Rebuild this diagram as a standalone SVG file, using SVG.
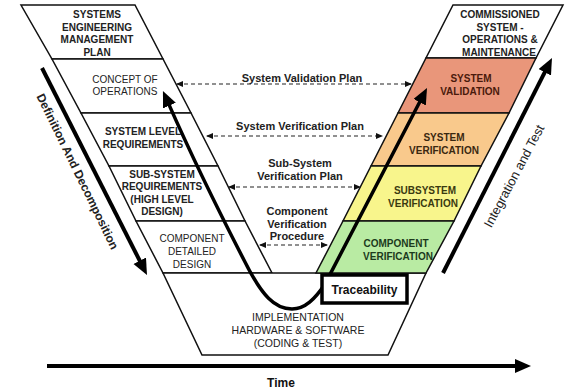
<svg xmlns="http://www.w3.org/2000/svg" width="566" height="391" viewBox="0 0 566 391">
<defs>
<style>
.box{stroke:#111;stroke-width:1.5;fill:#fff;stroke-linejoin:miter}
.t{font-family:"Liberation Sans",Arial,sans-serif;font-size:10px;text-anchor:middle;fill:#222}
.b{font-weight:bold}
.lbl{font-family:"Liberation Sans",Arial,sans-serif;font-size:11px;font-weight:bold;text-anchor:middle;fill:#222}
.dash{stroke:#222;stroke-width:1.2;stroke-dasharray:4 3;fill:none;marker-start:url(#sa);marker-end:url(#sa)}
.thick{stroke:#000;fill:none;stroke-width:3.5;marker-end:url(#ba)}
</style>
<marker id="sa" markerUnits="userSpaceOnUse" markerWidth="8" markerHeight="8" refX="6" refY="3" orient="auto-start-reverse"><path d="M0,0 L7,3 L0,6 Z" fill="#111"/></marker>
<marker id="ba" markerUnits="userSpaceOnUse" markerWidth="18" markerHeight="16" refX="3" refY="7" orient="auto-start-reverse"><path d="M0,0 L16,7 L0,14 Z" fill="#000"/></marker>
</defs>
<rect width="566" height="391" fill="#fff"/>

<g id="semp"><polygon class="box" points="21,5 135,5 163,59 52,59"/>
<text class="t b" x="97"><tspan x="97" y="18">SYSTEMS</tspan><tspan x="97" y="30.5">ENGINEERING</tspan><tspan x="97" y="43">MANAGEMENT</tspan><tspan x="97" y="55.5">PLAN</tspan></text></g>
<g id="conops"><polygon class="box" points="52,59 163,59 191,113 81,113"/>
<text class="t"><tspan x="125" y="83">CONCEPT OF</tspan><tspan x="125" y="95">OPERATIONS</tspan></text></g>
<g id="syslevel"><polygon class="box" points="81,113 191,113 218,166 109,166"/>
<text class="t b"><tspan x="143" y="135">SYSTEM LEVEL</tspan><tspan x="143" y="148">REQUIREMENTS</tspan></text></g>
<g id="subsys"><polygon class="box" points="109,166 218,166 245,221 136,221"/>
<text class="t b"><tspan x="162" y="177.5">SUB-SYSTEM</tspan><tspan x="162" y="190">REQUIREMENTS</tspan><tspan x="162" y="202.5">(HIGH LEVEL</tspan><tspan x="162" y="215">DESIGN)</tspan></text></g>
<g id="compdd"><polygon class="box" points="136,221 245,221 272,273 163,273"/>
<text class="t"><tspan x="192" y="242">COMPONENT</tspan><tspan x="192" y="255">DETAILED</tspan><tspan x="192" y="267.5">DESIGN</tspan></text></g>
<g id="impl"><polygon class="box" points="163,273 426,273 388,355 202,355"/>
<text class="t" style="font-size:10.5px"><tspan x="298" y="321">IMPLEMENTATION</tspan><tspan x="298" y="334">HARDWARE &amp; SOFTWARE</tspan><tspan x="298" y="347">(CODING &amp; TEST)</tspan></text></g>

<g id="commissioned"><polygon class="box" points="453,5 563,5 536,58 426,58"/>
<text class="t b"><tspan x="500" y="18">COMMISSIONED</tspan><tspan x="500" y="30.5">SYSTEM -</tspan><tspan x="500" y="43">OPERATIONS &amp;</tspan><tspan x="499" y="55.5">MAINTENANCE</tspan></text></g>
<g id="sysval"><polygon class="box" style="fill:#E9967A" points="426,58 536,58 509,113 398,113"/>
<text class="t b" style="fill:#4a1a0c"><tspan x="471" y="82">SYSTEM</tspan><tspan x="470" y="94.5">VALIDATION</tspan></text></g>
<g id="sysver"><polygon class="box" style="fill:#F9C98C" points="398,113 509,113 481,166 371,166"/>
<text class="t b" style="fill:#3a2810"><tspan x="444" y="141">SYSTEM</tspan><tspan x="444" y="153.5">VERIFICATION</tspan></text></g>
<g id="subver"><polygon class="box" style="fill:#F8F58C" points="371,166 481,166 454,221 343,221"/>
<text class="t b" style="fill:#3a3a10"><tspan x="425" y="194">SUBSYSTEM</tspan><tspan x="423" y="206.5">VERIFICATION</tspan></text></g>
<g id="compver"><polygon class="box" style="fill:#B9EBA3" points="343,221 454,221 426,273 316,273"/>
<text class="t b" style="fill:#1c3a1c"><tspan x="396" y="247">COMPONENT</tspan><tspan x="398" y="259.5">VERIFICATION</tspan></text></g>

<g id="connectors">
<line class="dash" x1="177" y1="84" x2="411" y2="84"/>
<text class="lbl" x="302" y="81.5">System Validation Plan</text>
<line class="dash" x1="207" y1="136" x2="382" y2="136"/>
<text class="lbl" x="300" y="130">System Verification Plan</text>
<line class="dash" x1="229" y1="187" x2="360" y2="187"/>
<text class="lbl"><tspan x="300" y="167">Sub-System</tspan><tspan x="300" y="179.5">Verification Plan</tspan></text>
<line class="dash" x1="260" y1="245" x2="327" y2="245"/>
<text class="lbl"><tspan x="297" y="215">Component</tspan><tspan x="297" y="227.5">Verification</tspan><tspan x="297" y="240">Procedure</tspan></text>

<path class="thick" style="marker-start:url(#ba)" d="M168.2,102.9 Q200,175 245,262 C262,296 275,309 292,309 C305,309 315,299 325,284 L421,99.5"/>
<line class="thick" style="stroke-width:4" x1="42" y1="68" x2="141.1" y2="263.4"/>
<line class="thick" style="stroke-width:4" x1="443" y1="273" x2="546.1" y2="69.6"/>
<line class="thick" style="stroke-width:4" x1="47" y1="366" x2="518" y2="366"/>
</g>

<g id="traceability"><rect x="322" y="275" width="85" height="28" fill="#fff" stroke="#000" stroke-width="3.5"/>
<text class="t b" style="font-size:12px;fill:#111" x="364.5" y="294">Traceability</text></g>

<g id="axis-labels">
<text class="t b" style="font-size:12px;fill:#222" transform="translate(77.5,171.5) rotate(64)" x="0" y="4">Definition And Decomposition</text>
<text class="t" style="font-size:13px;fill:#222" transform="translate(514,176) rotate(-62)" x="0" y="4.5">Integration and Test</text>
<text class="t b" style="font-size:12px;fill:#111" x="281" y="387">Time</text>
</g>
</svg>
